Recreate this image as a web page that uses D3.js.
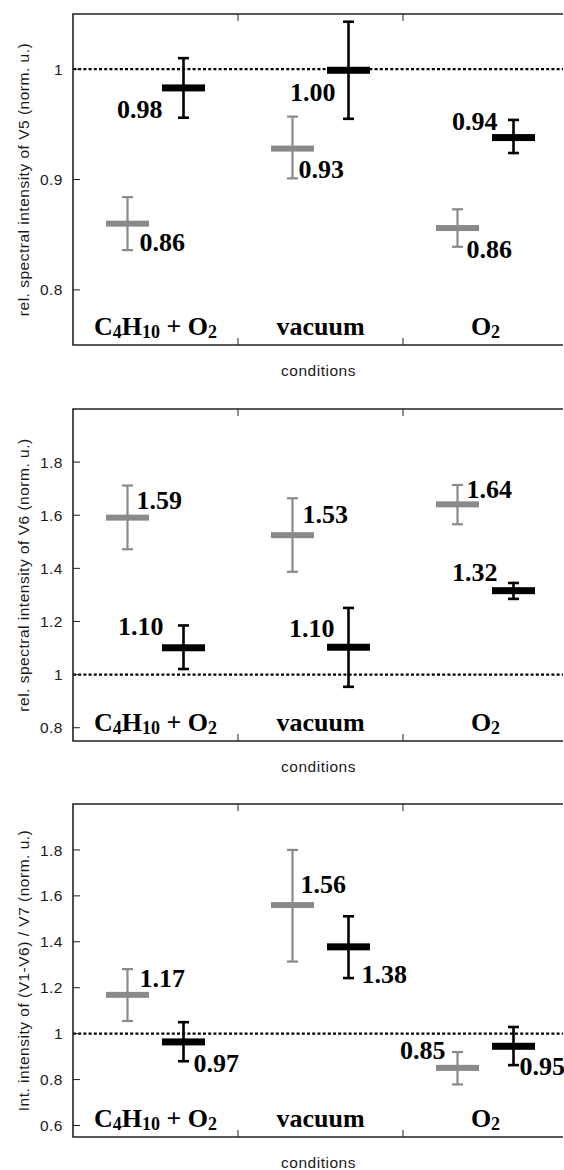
<!DOCTYPE html>
<html>
<head>
<meta charset="utf-8">
<script src="https://cdn.jsdelivr.net/npm/d3@7"></script>
<style>
  body { margin: 0; background: #fff; overflow: hidden; }
  svg { display: block; overflow: hidden; }
  .tick-label, .axis-title { font-family: "Liberation Sans", Arial, sans-serif; font-size: 15.5px; letter-spacing: 0.5px; fill: #1a1a1a; }
  .val, .cat { font-family: "Liberation Serif", "Times New Roman", serif; font-weight: bold; fill: #000; }
</style>
</head>
<body>
<div id="chart"></div>
<script>
// categories and series
var categories = ["C4H10 + O2", "vacuum", "O2"];
var series = ["gray", "black"];

// panel 1: rel. spectral intensity of V5
var v5Gray = [0.860, 0.928, 0.856];
var v5GrayLo = [0.836, 0.901, 0.839];
var v5GrayHi = [0.884, 0.957, 0.873];
var v5Black = [0.983, 0.999, 0.938];
var v5BlackLo = [0.956, 0.955, 0.924];
var v5BlackHi = [1.010, 1.043, 0.954];
var v5GrayText = ["0.86", "0.93", "0.86"];
var v5BlackText = ["0.98", "1.00", "0.94"];

// panel 2: rel. spectral intensity of V6
var v6Gray = [1.591, 1.525, 1.641];
var v6GrayLo = [1.472, 1.387, 1.566];
var v6GrayHi = [1.712, 1.664, 1.714];
var v6Black = [1.101, 1.103, 1.316];
var v6BlackLo = [1.021, 0.954, 1.285];
var v6BlackHi = [1.185, 1.251, 1.345];
var v6GrayText = ["1.59", "1.53", "1.64"];
var v6BlackText = ["1.10", "1.10", "1.32"];

// panel 3: Int. intensity of (V1-V6) / V7
var v7Gray = [1.169, 1.560, 0.851];
var v7GrayLo = [1.055, 1.314, 0.779];
var v7GrayHi = [1.281, 1.800, 0.920];
var v7Black = [0.964, 1.378, 0.945];
var v7BlackLo = [0.880, 1.242, 0.863];
var v7BlackHi = [1.050, 1.511, 1.029];
var v7GrayText = ["1.17", "1.56", "0.85"];
var v7BlackText = ["0.97", "1.38", "0.95"];

// tick labels
var v5Ticks = [0.8, 0.9, 1];
var v6Ticks = [0.8, 1, 1.2, 1.4, 1.6, 1.8];
var v7Ticks = [0.6, 0.8, 1, 1.2, 1.4, 1.6, 1.8];
var tickText = { "0.6": "0.6", "0.8": "0.8", "0.9": "0.9", "1": "1", "1.2": "1.2", "1.4": "1.4", "1.6": "1.6", "1.8": "1.8" };

// category label pieces (text, subscript?)
var catParts = [
  [["C", 0], ["4", 1], ["H", 0], ["10", 1], [" + O", 0], ["2", 1]],
  [["vacuum", 0]],
  [["O", 0], ["2", 1]]
];

// label placement: [dx from mark center, dy from bar, anchor] - layout only
var v5Place = {
  gray: [[12, 27, "start"], [6, 29, "start"], [9, 30, "start"]],
  black: [[-21, 30, "end"], [-13, 31, "end"], [-16, -8, "end"]]
};
var v6Place = {
  gray: [[9, -9, "start"], [10, -12, "start"], [9, -6, "start"]],
  black: [[-20, -13, "end"], [-14, -10, "end"], [-16, -10, "end"]]
};
var v7Place = {
  gray: [[12, -8, "start"], [8, -12, "start"], [-12, -9, "end"]],
  black: [[10, 30, "start"], [13, 36, "start"], [6, 29, "start"]]
};

var width = 564, height = 1170;
var left = 73, right = 568;

var svg = d3.select("#chart").append("svg")
  .attr("width", width)
  .attr("height", height);

var x = d3.scaleBand().domain(categories).range([left, right]).padding(0);
var xs = d3.scalePoint().domain(series).range([0, x.bandwidth()]).padding(0.973);

var colors = { gray: "#8a8a8a", black: "#000" };

function drawPanel(p) {
  var y = d3.scaleLinear().domain(p.domain).range([p.bottom, p.top]);
  var g = svg.append("g");

  // reference line at 1
  g.append("line")
    .attr("x1", left).attr("x2", width - 1)
    .attr("y1", y(1)).attr("y2", y(1))
    .attr("stroke", "#000").attr("stroke-width", 2.2)
    .attr("stroke-dasharray", "3,2.2");

  // y ticks
  p.ticks.forEach(function(t) {
    g.append("line")
      .attr("x1", left).attr("x2", left + 7)
      .attr("y1", y(t)).attr("y2", y(t))
      .attr("stroke", "#222").attr("stroke-width", 1);
    g.append("text").attr("class", "tick-label")
      .attr("x", left - 10).attr("y", y(t)).attr("dy", "0.36em")
      .attr("text-anchor", "end")
      .text(tickText[String(t)]);
  });

  // x ticks at category boundaries
  categories.slice(1).forEach(function(c) {
    var xb = x(c);
    g.append("line").attr("x1", xb).attr("x2", xb)
      .attr("y1", p.top).attr("y2", p.top + 7)
      .attr("stroke", "#222").attr("stroke-width", 1);
    g.append("line").attr("x1", xb).attr("x2", xb)
      .attr("y1", p.bottom).attr("y2", p.bottom - 7)
      .attr("stroke", "#222").attr("stroke-width", 1);
  });

  // frame: left, top, bottom (right edge lies outside the picture)
  var frame = g.append("g").attr("stroke", "#222").attr("stroke-width", 1.6).attr("fill", "none");
  frame.append("path")
    .attr("d", "M" + (width - 1) + "," + p.top + "H" + left + "V" + p.bottom + "H" + (width - 1));

  // error bars + bars
  series.forEach(function(s) {
    var vals = p.values[s], lo = p.lo[s], hi = p.hi[s];
    var sw = s === "black" ? 2.6 : 2.2;
    var bh = s === "black" ? 7 : 6;
    categories.forEach(function(c, i) {
      var cx = x(c) + xs(s);
      var eg = g.append("g").attr("stroke", colors[s]).attr("stroke-width", sw);
      eg.append("line").attr("x1", cx).attr("x2", cx).attr("y1", y(lo[i])).attr("y2", y(hi[i]));
      eg.append("line").attr("x1", cx - 5.5).attr("x2", cx + 5.5).attr("y1", y(lo[i])).attr("y2", y(lo[i]));
      eg.append("line").attr("x1", cx - 5.5).attr("x2", cx + 5.5).attr("y1", y(hi[i])).attr("y2", y(hi[i]));
      g.append("rect")
        .attr("x", cx - 21.5).attr("y", y(vals[i]) - bh / 2)
        .attr("width", 43).attr("height", bh)
        .attr("fill", colors[s]);
      var pl = p.place[s][i];
      g.append("text").attr("class", "val")
        .attr("x", cx + pl[0]).attr("y", y(vals[i]) + pl[1])
        .attr("text-anchor", pl[2])
        .attr("font-size", 26)
        .text(p.text[s][i]);
    });
  });

  // category labels
  categories.forEach(function(c, i) {
    var t = g.append("text").attr("class", "cat")
      .attr("x", x(c) + x.bandwidth() / 2).attr("y", p.bottom - 10)
      .attr("text-anchor", "middle").attr("font-size", 26);
    var shifted = false;
    catParts[i].forEach(function(part) {
      var ts = t.append("tspan").text(part[0]);
      if (part[1]) {
        ts.attr("font-size", 18).attr("dy", shifted ? 0 : 2.5);
        shifted = true;
      } else {
        if (shifted) ts.attr("dy", -2.5);
        shifted = false;
      }
    });
  });

  // axis titles
  g.append("text").attr("class", "axis-title")
    .attr("transform", "translate(29," + ((p.top + p.bottom) / 2) + ") rotate(-90)")
    .attr("text-anchor", "middle")
    .text(p.title);
  g.append("text").attr("class", "axis-title")
    .attr("x", (left + width) / 2).attr("y", p.bottom + 31)
    .attr("text-anchor", "middle")
    .text("conditions");
}

drawPanel({
  top: 14, bottom: 345, domain: [0.75, 1.05], ticks: v5Ticks,
  title: "rel. spectral intensity of V5 (norm. u.)",
  values: { gray: v5Gray, black: v5Black },
  lo: { gray: v5GrayLo, black: v5BlackLo },
  hi: { gray: v5GrayHi, black: v5BlackHi },
  text: { gray: v5GrayText, black: v5BlackText },
  place: v5Place
});
drawPanel({
  top: 409, bottom: 741, domain: [0.75, 2.0], ticks: v6Ticks,
  title: "rel. spectral intensity of V6 (norm. u.)",
  values: { gray: v6Gray, black: v6Black },
  lo: { gray: v6GrayLo, black: v6BlackLo },
  hi: { gray: v6GrayHi, black: v6BlackHi },
  text: { gray: v6GrayText, black: v6BlackText },
  place: v6Place
});
drawPanel({
  top: 804, bottom: 1137, domain: [0.55, 2.0], ticks: v7Ticks,
  title: "Int. intensity of (V1-V6) / V7 (norm. u.)",
  values: { gray: v7Gray, black: v7Black },
  lo: { gray: v7GrayLo, black: v7BlackLo },
  hi: { gray: v7GrayHi, black: v7BlackHi },
  text: { gray: v7GrayText, black: v7BlackText },
  place: v7Place
});
</script>
</body>
</html>
